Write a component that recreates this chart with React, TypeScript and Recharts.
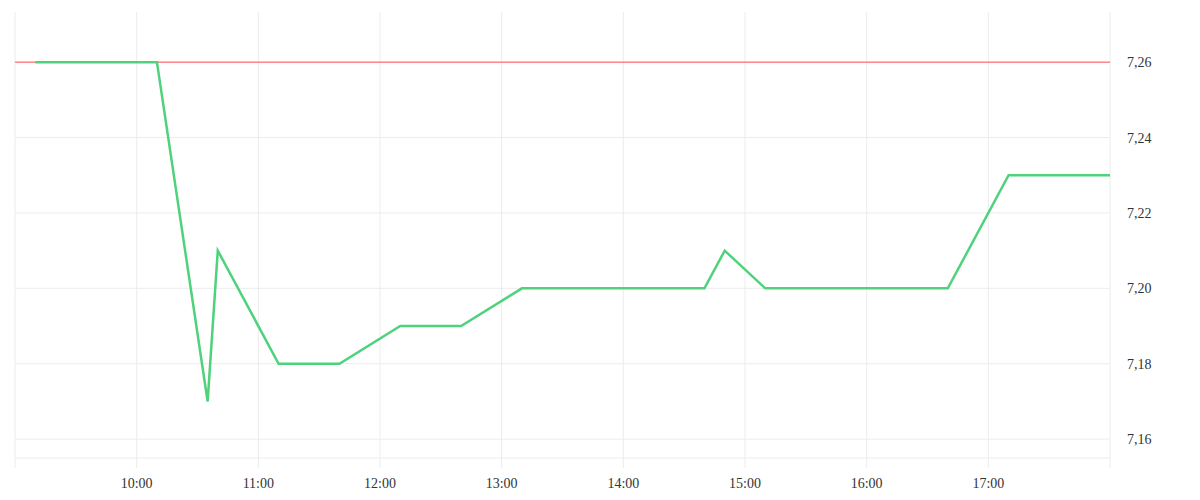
import React from "react"
import { LineChart, Line, XAxis, YAxis, CartesianGrid, ReferenceLine } from "recharts"

// minutes since midnight
const times = [550, 610, 635, 640, 670, 700, 730, 760, 790, 880, 890, 910, 1000, 1030, 1080]
const prices = [7.26, 7.26, 7.17, 7.21, 7.18, 7.18, 7.19, 7.19, 7.2, 7.2, 7.21, 7.2, 7.2, 7.23, 7.23]
const xTicks = [540, 600, 660, 720, 780, 840, 900, 960, 1020, 1080]
const yTicks = [7.16, 7.18, 7.2, 7.22, 7.24, 7.26]
const refPrice = 7.26

const data = times.map((t, i) => ({ t, price: prices[i] }))

const fmtTime = (m: number) => {
  if (m === 540 || m === 1080) return ""
  const h = Math.floor(m / 60)
  const mm = m % 60
  return `${h}:${mm < 10 ? "0" + mm : mm}`
}

const fmtPrice = (v: number) => v.toFixed(2).replace(".", ",")

const tickStyle = { fill: "#333", fontSize: 14, fontFamily: "Liberation Serif" }

export default function App() {
  return (
    <div style={{ position: "absolute", left: 0, top: 0 }}>
      <LineChart width={1200} height={500} data={data} margin={{ top: 12, right: 0, bottom: 0, left: 15 }}>
        <CartesianGrid
          stroke="#ececec"
          strokeWidth={1}
          horizontalValues={yTicks}
          verticalValues={xTicks}
        />
        <XAxis
          dataKey="t"
          type="number"
          domain={[540, 1080]}
          ticks={xTicks}
          tickFormatter={fmtTime}
          stroke="#ececec"
          tickSize={10}
          tickMargin={10}
          tick={tickStyle}
          height={42}
          interval={0}
        />
        <YAxis
          orientation="right"
          type="number"
          domain={[7.155, 7.2733]}
          ticks={yTicks}
          tickFormatter={fmtPrice}
          axisLine={false}
          tickLine={false}
          tickSize={10}
          tickMargin={7}
          tick={tickStyle}
          width={90}
          interval={0}
        />
        <ReferenceLine y={refPrice} stroke="#ff5252" strokeWidth={1} />
        <Line
          type="linear"
          dataKey="price"
          stroke="#4fd27c"
          strokeWidth={2.5}
          dot={false}
          isAnimationActive={false}
        />
      </LineChart>
    </div>
  )
}
